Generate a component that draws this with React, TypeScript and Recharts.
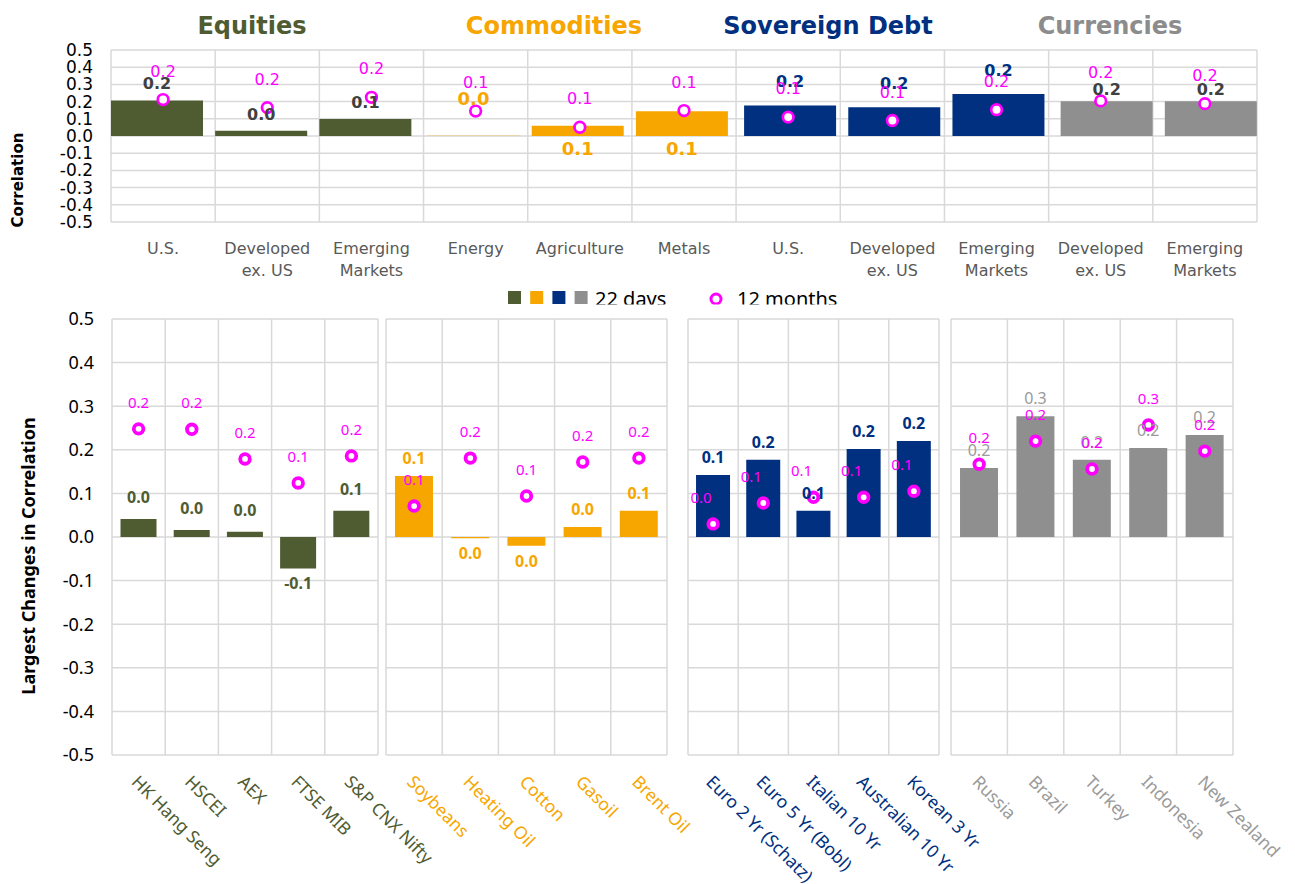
import React from 'react';
import { ComposedChart, Bar, Line, XAxis, YAxis, CartesianGrid, LabelList } from 'recharts';

const OLIVE = '#4F5B31';
const ORANGE = '#F7A600';
const NAVY = '#00307F';
const GRAY = '#8F8F8F';
const MAGENTA = '#FF00FF';
const GRID = '#D9D9D9';
const TOP_FONT = "'DejaVu Sans', Verdana, sans-serif";
const BOTTOM_FONT = "'Noto Sans', 'Open Sans', sans-serif";

// top chart: asset class averages
const topCategories = [
  'U.S.', 'Developed\nex. US', 'Emerging\nMarkets',
  'Energy', 'Agriculture', 'Metals',
  'U.S.', 'Developed\nex. US', 'Emerging\nMarkets',
  'Developed\nex. US', 'Emerging\nMarkets',
];
const topGroups = ['eq', 'eq', 'eq', 'com', 'com', 'com', 'sov', 'sov', 'sov', 'cur', 'cur'];
const top22Days = [0.207, 0.031, 0.099, 0.002, 0.06, 0.144, 0.178, 0.167, 0.244, 0.202, 0.202];
const top12Months = [0.212, 0.165, 0.225, 0.145, 0.051, 0.148, 0.11, 0.09, 0.153, 0.204, 0.188];

const yTicks = [0.5, 0.4, 0.3, 0.2, 0.1, 0, -0.1, -0.2, -0.3, -0.4, -0.5];

// bottom chart: largest changes
const equityNames = ['HK Hang Seng', 'HSCEI', 'AEX', 'FTSE MIB', 'S&P CNX Nifty'];
const equity22Days = [0.041, 0.016, 0.012, -0.072, 0.06];
const equity12Months = [0.248, 0.247, 0.179, 0.124, 0.186];

const commodityNames = ['Soybeans', 'Heating Oil', 'Cotton', 'Gasoil', 'Brent Oil'];
const commodity22Days = [0.14, -0.003, -0.02, 0.023, 0.06];
const commodity12Months = [0.071, 0.181, 0.094, 0.172, 0.181];

const sovereignNames = ['Euro 2 Yr (Schatz)', 'Euro 5 Yr (Bobl)', 'Italian 10 Yr', 'Australian 10 Yr', 'Korean 3 Yr'];
const sovereign22Days = [0.142, 0.177, 0.06, 0.202, 0.22];
const sovereign12Months = [0.03, 0.078, 0.091, 0.091, 0.105];

const currencyNames = ['Russia', 'Brazil', 'Turkey', 'Indonesia', 'New Zealand'];
const currency22Days = [0.158, 0.277, 0.177, 0.204, 0.234];
const currency12Months = [0.167, 0.22, 0.156, 0.257, 0.197];

const groups = [
  { key: 'eq', title: 'Equities', color: OLIVE, topLabel: '#404040', topDy: -11, tickColor: OLIVE, titleX: 252 },
  { key: 'com', title: 'Commodities', color: ORANGE, topLabel: ORANGE, topDy: 0, tickColor: ORANGE, titleX: 554 },
  { key: 'sov', title: 'Sovereign Debt', color: NAVY, topLabel: NAVY, topDy: -18, tickColor: NAVY, titleX: 828 },
  { key: 'cur', title: 'Currencies', color: GRAY, topLabel: '#404040', topDy: -6, tickColor: '#9A9A9A', titleX: 1110 },
];

const panels = [
  { group: groups[0], names: equityNames, d22: equity22Days, m12: equity12Months },
  { group: groups[1], names: commodityNames, d22: commodity22Days, m12: commodity12Months },
  { group: groups[2], names: sovereignNames, d22: sovereign22Days, m12: sovereign12Months },
  { group: groups[3], names: currencyNames, d22: currency22Days, m12: currency12Months },
];

const panelLayout = [
  { left: 0, width: 382, ml: 0, axis: 112 },
  { left: 382, width: 289, ml: 4, axis: 0 },
  { left: 684, width: 259, ml: 4, axis: 0 },
  { left: 947, width: 290, ml: 4, axis: 0 },
];

const fmt = (v: number) => (Math.round(v * 10) / 10).toFixed(1);

const boxOf = (p: any) => {
  const vb = p.viewBox && typeof p.viewBox.x === 'number' ? p.viewBox : p;
  return { x: vb.x, y: vb.y, width: vb.width || 0, height: vb.height || 0 };
};

const bandEdges = (n: number) => (props: any) => {
  const o = props.offset;
  return Array.from({ length: n + 1 }, (_, i) => o.left + (o.width * i) / n);
};

const ring = (r: number, sw: number) => (p: any) => {
  if (p.cx == null || p.cy == null) return <g key={`ring-${p.index}`} />;
  return <circle key={`ring-${p.index}`} cx={p.cx} cy={p.cy} r={r} fill="#fff" stroke={MAGENTA} strokeWidth={sw} />;
};

const topBarLabel = (g: any) => (p: any) => {
  if (p.value == null) return null;
  const b = boxOf(p);
  const cx = b.x + b.width / 2;
  const zero = Math.max(b.y, b.y + b.height);
  let ty = Math.min(b.y, b.y + b.height) + g.topDy;
  if (g.key === 'com') ty = p.value > 0.01 ? zero + 19 : zero - 31;
  return (
    <text x={cx} y={ty} textAnchor="middle" fill={g.topLabel} fontSize={g.key === 'com' ? 18 : 16}
      fontWeight={700} fontFamily={TOP_FONT}>
      {fmt(p.value)}
    </text>
  );
};

const ringLabel = (dy: number, size: number, font: string, dx = 0) => (p: any) => {
  if (p.value == null) return null;
  const b = boxOf(p);
  return (
    <text x={b.x + dx} y={b.y + dy} textAnchor="middle" fill={MAGENTA} fontSize={size} fontFamily={font}>
      {fmt(p.value)}
    </text>
  );
};

function TopChart() {
  const data = topCategories.map((name, i) => {
    const row: any = { name, m12: top12Months[i] };
    groups.forEach((g) => {
      row[g.key] = topGroups[i] === g.key ? top22Days[i] : null;
    });
    return row;
  });

  return (
    <ComposedChart width={1295} height={290} data={data}
      margin={{ top: 50, right: 38, bottom: 0, left: 0 }} barGap={-88} barCategoryGap={0}>
      <CartesianGrid stroke={GRID} strokeWidth={1.5} verticalCoordinatesGenerator={bandEdges(topCategories.length)} />
      <XAxis dataKey="name" interval={0} axisLine={false} tickLine={false} tickSize={0} height={68}
        tick={(p: any) => {
          const lines = String(p.payload.value).split('\n');
          return (
            <text x={p.x} y={p.y} textAnchor="middle" fill="#595959" fontSize={16} fontFamily={TOP_FONT}>
              {lines.map((l, i) => (
                <tspan key={i} x={p.x} y={p.y + 30 + i * 22}>{l}</tspan>
              ))}
            </text>
          );
        }} />
      <YAxis domain={[-0.5, 0.5]} ticks={yTicks} interval={0} axisLine={false} tickLine={false}
        tickSize={0} tickMargin={18} width={111} tickFormatter={(v: number) => v.toFixed(1)}
        tick={{ fill: '#000', fontSize: 17, fontFamily: TOP_FONT }} />
      {groups.map((g) => (
        <Bar key={g.key} dataKey={g.key} fill={g.color} isAnimationActive={false}>
          <LabelList dataKey={g.key} content={topBarLabel(g)} />
        </Bar>
      ))}
      <Line dataKey="m12" stroke="none" dot={ring(5.3, 2.7)} activeDot={false} isAnimationActive={false}>
        <LabelList dataKey="m12" content={ringLabel(-23, 16, TOP_FONT)} />
      </Line>
    </ComposedChart>
  );
}

function Panel({ panel, layout }: any) {
  const g = panel.group;
  const data = panel.names.map((name: string, i: number) => ({ name, d22: panel.d22[i], m12: panel.m12[i] }));

  const barLabel = (p: any) => {
    if (p.value == null) return null;
    const b = boxOf(p);
    const top = Math.min(b.y, b.y + b.height);
    const bottom = Math.max(b.y, b.y + b.height);
    const ty = p.value > 0 ? top - (g.key === 'eq' ? 16 : 12) : bottom + 21;
    return (
      <text x={b.x + b.width / 2} y={ty} textAnchor="middle" fill={g.tickColor} fontSize={16}
        fontWeight={g.key === 'cur' ? 400 : 700} fontFamily={BOTTOM_FONT}>
        {fmt(p.value)}
      </text>
    );
  };

  return (
    <div style={{ position: 'absolute', left: layout.left, top: 305 }}>
      <ComposedChart width={layout.width} height={579} data={data}
        margin={{ top: 14, right: 4, bottom: 0, left: layout.ml }} barCategoryGap="16%">
        <CartesianGrid stroke={GRID} strokeWidth={1.5} verticalCoordinatesGenerator={bandEdges(data.length)} />
        <XAxis dataKey="name" interval={0} axisLine={false} tickLine={false} tickSize={0} height={129}
          tick={(p: any) => (
            <text x={0} y={0} transform={`translate(${p.x - 8},${p.y + 26}) rotate(45)`}
              fill={g.tickColor} fontSize={17.5} fontFamily={BOTTOM_FONT}>
              {p.payload.value}
            </text>
          )} />
        {layout.axis > 0 ? (
          <YAxis domain={[-0.5, 0.5]} ticks={yTicks} interval={0} axisLine={false} tickLine={false}
            tickSize={0} tickMargin={18} width={layout.axis} tickFormatter={(v: number) => v.toFixed(1)}
            tick={{ fill: '#000', fontSize: 18, fontFamily: BOTTOM_FONT }} />
        ) : (
          <YAxis hide domain={[-0.5, 0.5]} ticks={yTicks} interval={0} />
        )}
        <Bar dataKey="d22" fill={g.color} isAnimationActive={false}>
          <LabelList dataKey="d22" content={barLabel} />
        </Bar>
        <Line dataKey="m12" stroke="none" dot={ring(4.8, 3.8)} activeDot={false} isAnimationActive={false}>
          <LabelList dataKey="m12" content={ringLabel(-21, 15, BOTTOM_FONT, g.key === 'sov' ? -12 : 0)} />
        </Line>
      </ComposedChart>
    </div>
  );
}

export default function App() {
  return (
    <div style={{ position: 'relative', width: 1295, height: 884, background: '#fff' }}>
      <style>{'body{margin:0;} .recharts-surface{overflow:visible;}'}</style>
      <div style={{ position: 'absolute', left: 0, top: 0 }}>
        <TopChart />
      </div>
      {panels.map((p, i) => (
        <Panel key={p.group.key} panel={p} layout={panelLayout[i]} />
      ))}
      <svg width={1295} height={884} style={{ position: 'absolute', left: 0, top: 0, pointerEvents: 'none' }}>
        {groups.map((g) => (
          <text key={g.key} x={g.titleX} y={34} textAnchor="middle" fill={g.color === GRAY ? '#8C8C8C' : g.color}
            fontSize={24} fontWeight={700} fontFamily={TOP_FONT}>
            {g.title}
          </text>
        ))}
        <text transform="translate(18,180) rotate(-90)" textAnchor="middle" dominantBaseline="central"
          fontSize={15} fontWeight={700} fontFamily={TOP_FONT} fill="#000">
          Correlation
        </text>
        <text transform="translate(28,556) rotate(-90)" textAnchor="middle" dominantBaseline="central"
          fontSize={18} fontWeight={700} fontFamily={BOTTOM_FONT} fill="#000">
          Largest Changes in Correlation
        </text>
        <svg x={0} y={280} width={1295} height={24.5} overflow="hidden">
          {groups.map((g, i) => (
            <rect key={g.key} x={508 + i * 22.2} y={11} width={13} height={13} fill={g.color} />
          ))}
          <text x={595} y={26} fontSize={20} fontFamily={BOTTOM_FONT} fill="#000">22 days</text>
          <circle cx={716} cy={19} r={5} fill="#fff" stroke={MAGENTA} strokeWidth={3} />
          <text x={737} y={26} fontSize={20} fontFamily={BOTTOM_FONT} fill="#000">12 months</text>
        </svg>
      </svg>
    </div>
  );
}
